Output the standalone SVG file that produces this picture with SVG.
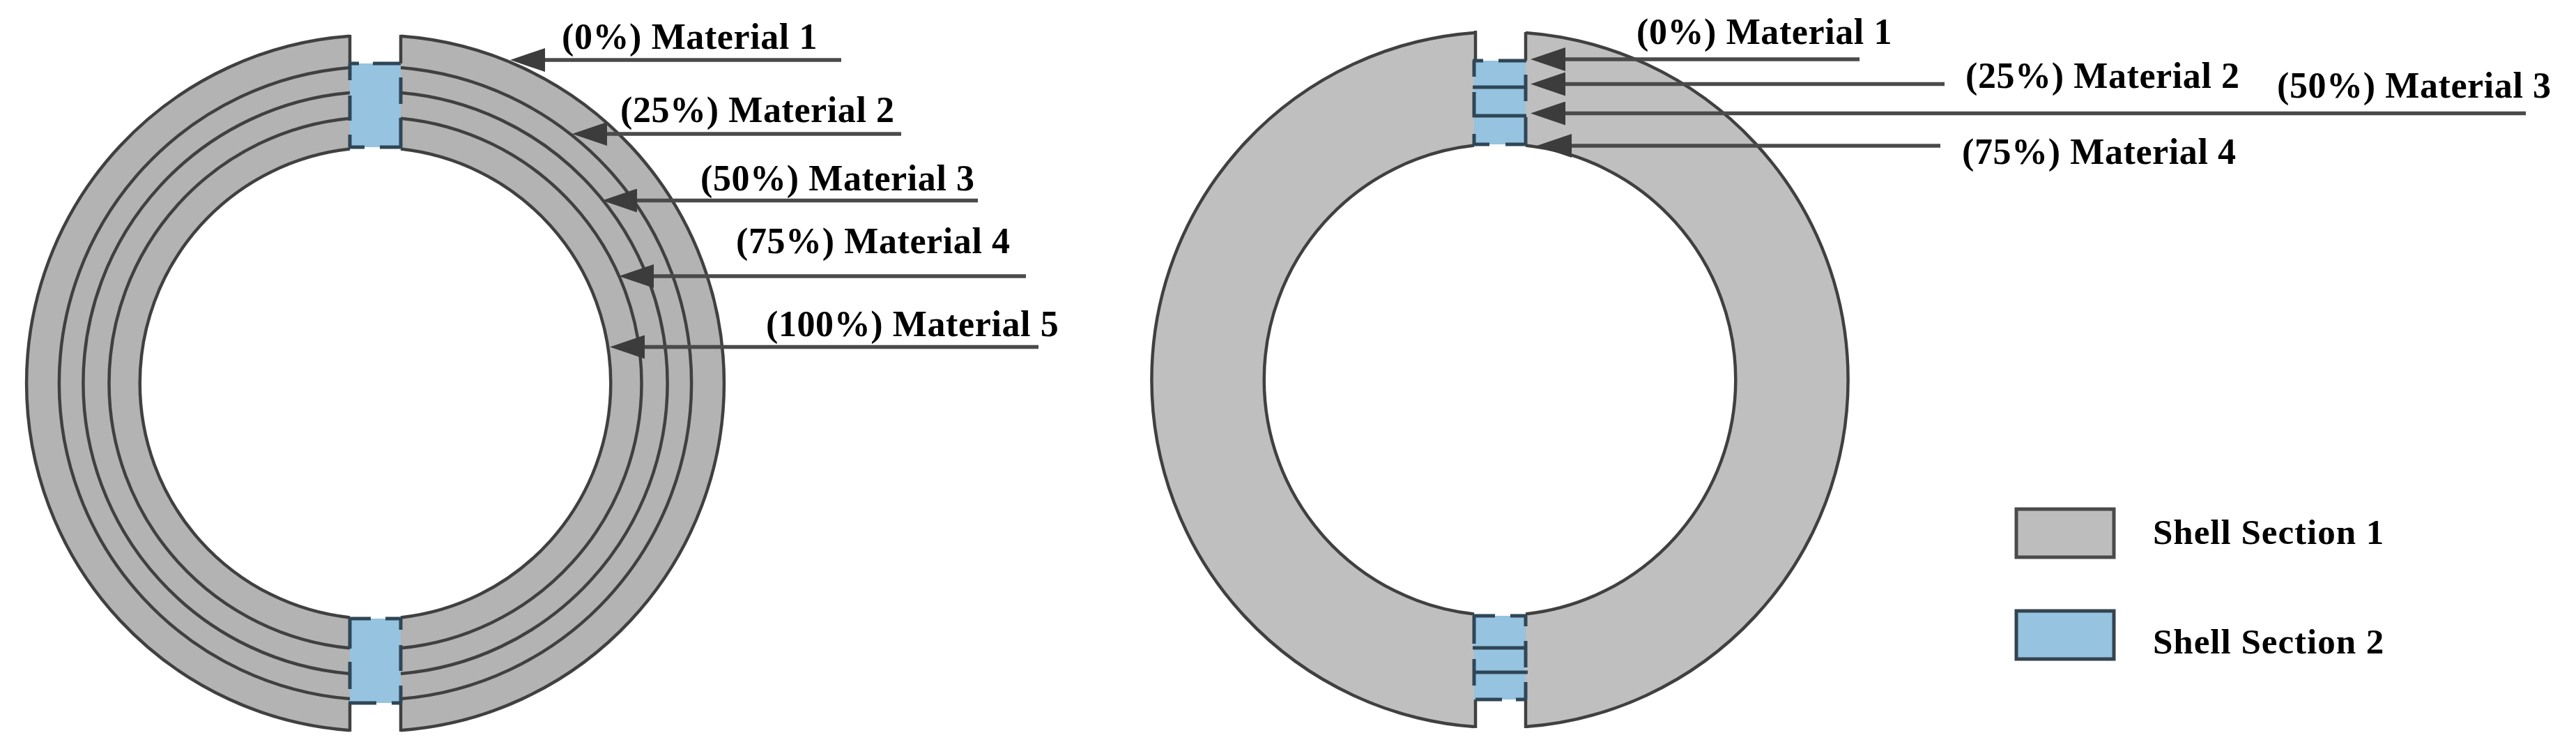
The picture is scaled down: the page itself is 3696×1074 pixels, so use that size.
<svg xmlns="http://www.w3.org/2000/svg" width="3696" height="1074" viewBox="0 0 3696 1074">
<style>
.bg{fill:#fff}
.g1{fill:#b3b3b3;stroke:none}
.g2{fill:#bfbfbf;stroke:none}
.blue{fill:#95c3e0;stroke:none}
.ln{fill:none;stroke:#404040;stroke-width:4.5}
.dash{fill:none;stroke:#2f4656;stroke-width:5}
.arrow{fill:none;stroke:#4a4a4a;stroke-width:5.500;marker-end:url(#head)}
text{font-family:"Liberation Serif","Times New Roman",serif;font-weight:700;font-size:52px;letter-spacing:.6px;fill:#000}
.leg{font-size:51px;letter-spacing:1px}
</style>
<defs>
<marker id="head" markerUnits="userSpaceOnUse" markerWidth="50" markerHeight="34" viewBox="0 0 50 34" refX="2" refY="17" orient="auto">
<path d="M0,0L50,17L0,34Z" fill="#3c3c3c"/>
</marker>
</defs>
<rect class="bg" width="3696" height="1074"/>
<g id="ring-left">
<path class="g1" d="M502,51.8A500 499 0 0 0 502,1047.2L502,885.5A338 338 0 0 1 502,213.5Z"/>
<path class="g1" d="M575,51.8A500 499 0 0 1 575,1047.2L575,885.5A338 338 0 0 0 575,213.5Z"/>
<rect class="blue" x="502" y="91" width="73" height="120"/>
<rect class="blue" x="502" y="887" width="73" height="121"/>
<path class="ln" d="M502,51.8A500 499 0 0 0 502,1047.2M575,51.8A500 499 0 0 1 575,1047.2M502,97A454 454 0 0 0 502,1002M575,97A454 454 0 0 1 575,1002M502,133A418 418 0 0 0 502,966M575,133A418 418 0 0 1 575,966M502,169.7A381.5 381.5 0 0 0 502,929.3M575,169.7A381.5 381.5 0 0 1 575,929.3M502,213.500A338 338 0 0 0 502,885.5M575,213.5A338 338 0 0 1 575,885.5"/>
<path class="ln" d="M502,50V91M575,50V91M502,1008V1049M575,1008V1049"/>
<path class="dash" d="M500,91H515M535,91H575M575,111V149M575,169V211M502,91V115M502,137V173M502,193V211M500,211H523M545,211H577"/>
<path class="dash" d="M500,887H532M553,887H577M502,887V930M502,949V988M575,887V903M575,925V962M575,983V1008M500,1008H540M562,1008H577"/>
</g>
<g id="ring-right">
<path class="g2" d="M2115,46.9A500 499 0 0 0 2115,1042.1L2115,880.5A338 338 0 0 1 2115,208.5Z"/>
<path class="g2" d="M2189,46.9A500 499 0 0 1 2189,1042.1L2189,880.5A338 338 0 0 0 2189,208.5Z"/>
<rect class="blue" x="2115" y="87" width="74" height="120"/>
<rect class="blue" x="2115" y="883" width="74" height="120"/>
<path class="ln" d="M2115,46.9A500 499 0 0 0 2115,1042.1M2189,46.9A500 499 0 0 1 2189,1042.1M2115,208.5A338 338 0 0 0 2115,880.5M2189,208.5A338 338 0 0 1 2189,880.5"/>
<path class="ln" d="M2117,44V87M2189,46V87M2117,1003V1044M2189,1003V1044"/>
<path class="dash" d="M2113,87H2128M2150,87H2190M2189,107V145M2189,168V207M2115,87V110M2115,132V168M2115,192V207M2113,207H2137M2160,207H2190M2113,125H2190M2113,166H2190"/>
<path class="dash" d="M2113,883H2145M2167,883H2191M2115,883V923M2115,945V983M2189,883V898M2189,919V957M2189,978V1003M2117,1003H2155M2175,1003H2190M2113,929H2190M2113,964H2192"/>
</g>
<g id="connectors">
<path class="arrow" d="M1207,86H780"/>
<path class="arrow" d="M1293,192H869"/>
<path class="arrow" d="M1403,287.5H912"/>
<path class="arrow" d="M1472,396H936"/>
<path class="arrow" d="M1490,497.5H923"/>
<path class="arrow" d="M2668,85H2244"/>
<path class="arrow" d="M2790,120.5H2244"/>
<path class="arrow" d="M3624,162.5H2244"/>
<path class="arrow" d="M2784,209H2253"/>
</g>
<g id="labels-left">
<text x="806" y="70">(0%) Material 1</text>
<text x="890" y="175">(25%) Material 2</text>
<text x="1005" y="273">(50%) Material 3</text>
<text x="1056" y="363">(75%) Material 4</text>
<text x="1099" y="482">(100%) Material 5</text>
</g>
<g id="labels-right">
<text x="2348" y="63">(0%) Material 1</text>
<text x="2820" y="126">(25%) Material 2</text>
<text x="3267" y="140">(50%) Material 3</text>
<text x="2815" y="235">(75%) Material 4</text>
</g>
<g id="legend-1">
<rect x="2893" y="730" width="140" height="69" fill="#bdbdbd" stroke="#4a4a4a" stroke-width="5"/>
<text class="leg" x="3089" y="780">Shell Section 1</text>
</g>
<g id="legend-2">
<rect x="2893" y="876" width="140" height="69" fill="#95c3e0" stroke="#34434e" stroke-width="5"/>
<text class="leg" x="3089" y="937">Shell Section 2</text>
</g>
</svg>
